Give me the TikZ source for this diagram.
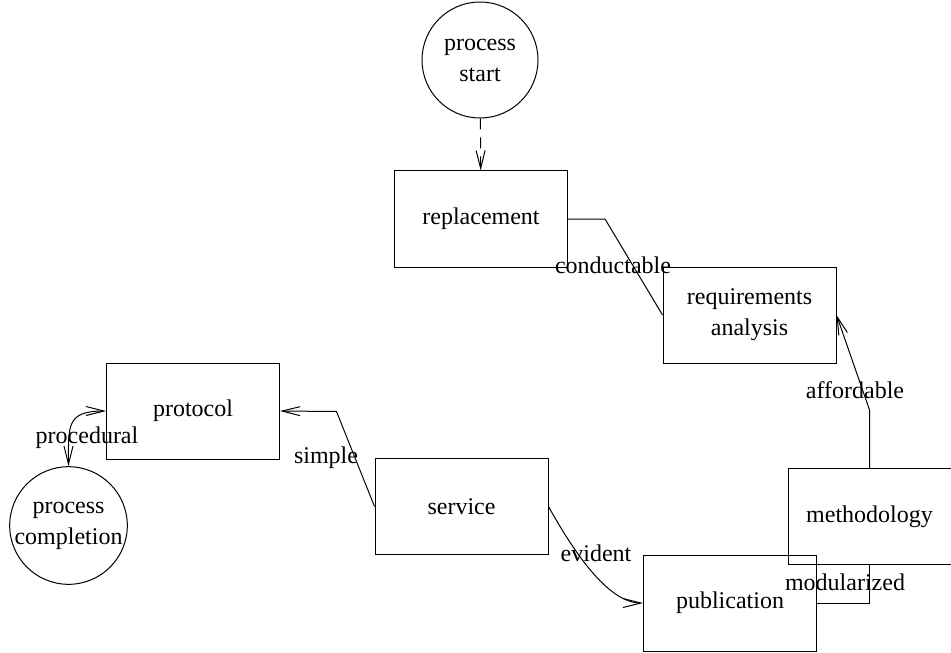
\documentclass[tikz,border=0pt]{standalone}
\usepackage{fontspec}
\setmainfont{Liberation Serif}
\usetikzlibrary{arrows.meta}

\begin{document}
\begin{tikzpicture}[x=0.5pt,y=-0.5pt,font=\fontsize{12}{15.5}\selectfont,
      box/.style={draw,line width=0.5pt,minimum width=86.5pt,minimum height=48pt,
                  align=center,inner sep=2pt},
      terminal/.style={draw,circle,line width=0.5pt,minimum size=58pt,
                       inner sep=0pt,align=center},
      flow/.style={line width=0.5pt},
      tip/.style={-{Straight Barb[length=9pt,width=4.5pt]}},
      lbl/.style={inner sep=0pt}]
    \useasboundingbox (0,0) rectangle (951,652);

    % States of the process, placed at the positions of the sketch.
    \node[terminal] (start) at (480,60) {process\\start};
    \node[box] (replacement) at (481,219) {replacement};
    \node[box] (requirements) at (749.5,315) {requirements\\analysis};
    \node[box,minimum width=81.5pt] (methodology) at (869.5,516.5) {methodology};
    \node[box] (publication) at (730,603) {publication};
    \node[box] (service) at (461.5,506.5) {service};
    \node[box] (protocol) at (193,411) {protocol};
    \node[terminal] (completion) at (68.5,525.5) {process\\completion};

    % Transitions.
    \draw[flow,tip,dash pattern=on 5.5pt off 4pt] (start) -- (replacement);
    \draw[flow] (replacement.east) -- ++(37,0) -- (requirements.west);
    \draw[flow,tip] (methodology.north) -- ++(0,-58) -- (requirements.east);
    \draw[flow] (methodology.south) |- (publication.east);
    \draw[flow,tip] (service.east) .. controls ++(25,45) and ++(-35,0)
      .. (publication.west);
    \draw[flow,tip] (service.west) -- ++(-38,-95) -- (protocol.east);
    \draw[flow,{Straight Barb[length=9pt,width=4.5pt]}-{Straight Barb[length=9pt,width=4.5pt]}]
      (protocol.west) .. controls ++(-40,0) and ++(0,-40) .. (completion.north);

    % Labels of the transitions.
    \node[lbl] (conductable) at (613,265) {conductable};
    \node[lbl] (affordable) at (855,390) {affordable};
    \node[lbl] (modularized) at (845,582) {modularized};
    \node[lbl] (evident) at (596,553) {evident};
    \node[lbl] (simple) at (326,458) {simple};
    \node[lbl] (procedural) at (87,438) {procedural};
  \end{tikzpicture}
\end{document}
